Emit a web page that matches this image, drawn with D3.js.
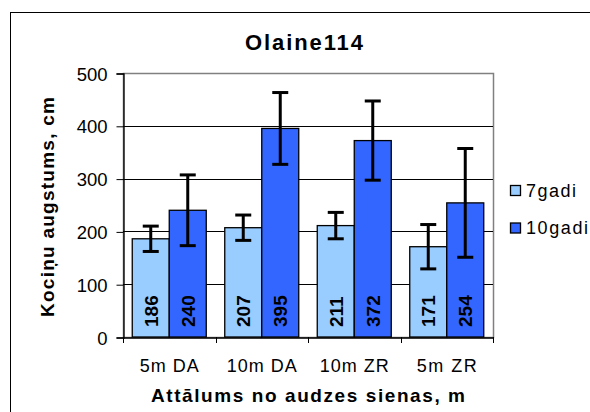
<!DOCTYPE html>
<html>
<head>
<meta charset="utf-8">
<script src="https://cdn.jsdelivr.net/npm/d3@7"></script>
<style>
  html, body { margin: 0; padding: 0; background: #fff; }
  svg { display: block; font-family: Arial, "Liberation Sans", sans-serif; }
</style>
</head>
<body>
<svg id="chart" width="590" height="412"></svg>
<script>
// ---- data ----
const categories = ["5m DA", "10m DA", "10m ZR", "5m ZR"];
const seriesNames = ["7gadi", "10gadi"];
const values7 = [186, 207, 211, 171];
const values10 = [240, 395, 372, 254];
const errors7 = [24, 24, 25, 42];
const errors10 = [67, 68, 75, 103];
const yTicks = [0, 100, 200, 300, 400, 500];
const title = "Olaine114";
const yTitle = "Kociņu augstums, cm";
const xTitle = "Attālums no audzes sienas, m";
const colors = ["#99CCFF", "#3366FF"];

const seriesValues = [values7, values10];
const seriesErrors = [errors7, errors10];

// ---- layout ----
const svg = d3.select("#chart");
const plot = { left: 123, right: 493, top: 73, bottom: 337 };
const FONT = "Arial, 'Liberation Sans', sans-serif";
const catLabelWidth = [59, 70, 69, 60];

const x0 = d3.scaleBand().domain(categories).range([plot.left, plot.right]).padding(0);
const x1 = d3.scaleBand().domain(seriesNames).range([0, x0.bandwidth()]).paddingInner(0).paddingOuter(0.25);
const y = d3.scaleLinear().domain([0, 500]).range([plot.bottom, plot.top]);

// outer frame (right/bottom edges beyond picture)
svg.append("rect").attr("x", 10.5).attr("y", 12.5).attr("width", 600).attr("height", 420)
  .attr("fill", "none").attr("stroke", "#000").attr("stroke-width", 1);

// plot area border (gray)
svg.append("rect")
  .attr("x", plot.left + 0.5).attr("y", plot.top + 0.5)
  .attr("width", plot.right - plot.left).attr("height", plot.bottom - plot.top)
  .attr("fill", "none").attr("stroke", "#808080").attr("stroke-width", 1.5);

// gridlines
svg.append("g").selectAll("line").data(yTicks.filter(d => d > 0 && d < 500)).join("line")
  .attr("x1", plot.left).attr("x2", plot.right)
  .attr("y1", d => Math.round(y(d)) + 0.5).attr("y2", d => Math.round(y(d)) + 0.5)
  .attr("stroke", "#000").attr("stroke-width", 1);

// y axis
const yAxis = d3.axisLeft(y).tickValues(yTicks).tickSize(7).tickPadding(9).tickFormat(d3.format("d"));
const gy = svg.append("g").attr("transform", `translate(${plot.left + 0.5},0.5)`).call(yAxis);
gy.select(".domain").attr("stroke", "#000").attr("stroke-width", 1.3);
gy.selectAll(".tick line").attr("stroke", "#000");
gy.selectAll(".tick text").attr("font-size", 18.5).attr("fill", "#000")
  .attr("font-family", FONT).attr("dy", "0.36em");

// bars
const groups = svg.append("g").selectAll("g").data(categories).join("g")
  .attr("transform", d => `translate(${x0(d)},0)`);

const rows = (c, i) => seriesNames.map((s, k) => ({ s, k, v: seriesValues[k][i], e: seriesErrors[k][i] }));

groups.selectAll("rect").data(rows).join("rect")
  .attr("x", d => x1(d.s)).attr("width", x1.bandwidth())
  .attr("y", d => y(d.v)).attr("height", d => y(0) - y(d.v))
  .attr("fill", d => colors[d.k]).attr("stroke", "#000").attr("stroke-width", 1.3);

// x axis
const xAxis = d3.axisBottom(x0).tickSize(0).tickPadding(22);
const gx = svg.append("g").attr("transform", `translate(0,${plot.bottom + 0.5})`).call(xAxis);
gx.select(".domain").attr("stroke", "#000").attr("stroke-width", 1.3);
gx.selectAll(".tick text").attr("font-size", 18).attr("fill", "#000").attr("font-family", FONT)
  .attr("textLength", (d, i) => catLabelWidth[i]).attr("lengthAdjust", "spacing");
// category boundary ticks
const bounds = categories.map(c => x0(c)).concat([plot.right]);
svg.append("g").selectAll("line").data(bounds).join("line")
  .attr("x1", d => Math.round(d) + 0.5).attr("x2", d => Math.round(d) + 0.5)
  .attr("y1", plot.bottom).attr("y2", plot.bottom + 6)
  .attr("stroke", "#000").attr("stroke-width", 1);

// error bars
const eb = groups.selectAll("g.err").data(rows).join("g").attr("class", "err");
eb.append("line")
  .attr("x1", d => x1(d.s) + x1.bandwidth() / 2).attr("x2", d => x1(d.s) + x1.bandwidth() / 2)
  .attr("y1", d => y(d.v + d.e)).attr("y2", d => y(d.v - d.e))
  .attr("stroke", "#000").attr("stroke-width", 3);
eb.selectAll("line.cap").data(d => [d.v + d.e, d.v - d.e].map(val => ({ val, d }))).join("line")
  .attr("class", "cap")
  .attr("x1", o => x1(o.d.s) + x1.bandwidth() / 2 - 8).attr("x2", o => x1(o.d.s) + x1.bandwidth() / 2 + 8)
  .attr("y1", o => y(o.val)).attr("y2", o => y(o.val))
  .attr("stroke", "#000").attr("stroke-width", 3);

// value labels (rotated)
groups.selectAll("text.val").data(rows).join("text").attr("class", "val")
  .attr("transform", d => `translate(${x1(d.s) + x1.bandwidth() / 2 + 7},${plot.bottom - 10}) rotate(-90)`)
  .attr("text-anchor", "start")
  .attr("font-size", 19).attr("font-weight", "bold").attr("fill", "#000")
  .text(d => d.v);

// title
svg.append("text").attr("x", 304).attr("y", 50).attr("text-anchor", "middle")
  .attr("font-size", 22).attr("font-weight", "bold")
  .attr("textLength", 118).attr("lengthAdjust", "spacing")
  .text(title);

// y title
svg.append("text").attr("transform", `translate(54,207) rotate(-90)`).attr("text-anchor", "middle")
  .attr("font-size", 19).attr("font-weight", "bold")
  .attr("textLength", 220).attr("lengthAdjust", "spacing")
  .text(yTitle);

// x title
svg.append("text").attr("x", 308).attr("y", 402).attr("text-anchor", "middle")
  .attr("font-size", 19).attr("font-weight", "bold")
  .attr("textLength", 314).attr("lengthAdjust", "spacing")
  .text(xTitle);

// legend
const legend = svg.append("g");
const legY = [185, 222.5];
const legLen = [50, 62];
seriesNames.forEach((s, k) => {
  legend.append("rect").attr("x", 510.5).attr("y", legY[k] + 0.5).attr("width", 10).attr("height", 10)
    .attr("fill", colors[k]).attr("stroke", "#000").attr("stroke-width", 1.3);
  legend.append("text").attr("x", 526).attr("y", legY[k] + 11.5)
    .attr("font-size", 18).attr("textLength", legLen[k]).attr("lengthAdjust", "spacing").text(s);
});
</script>
</body>
</html>
